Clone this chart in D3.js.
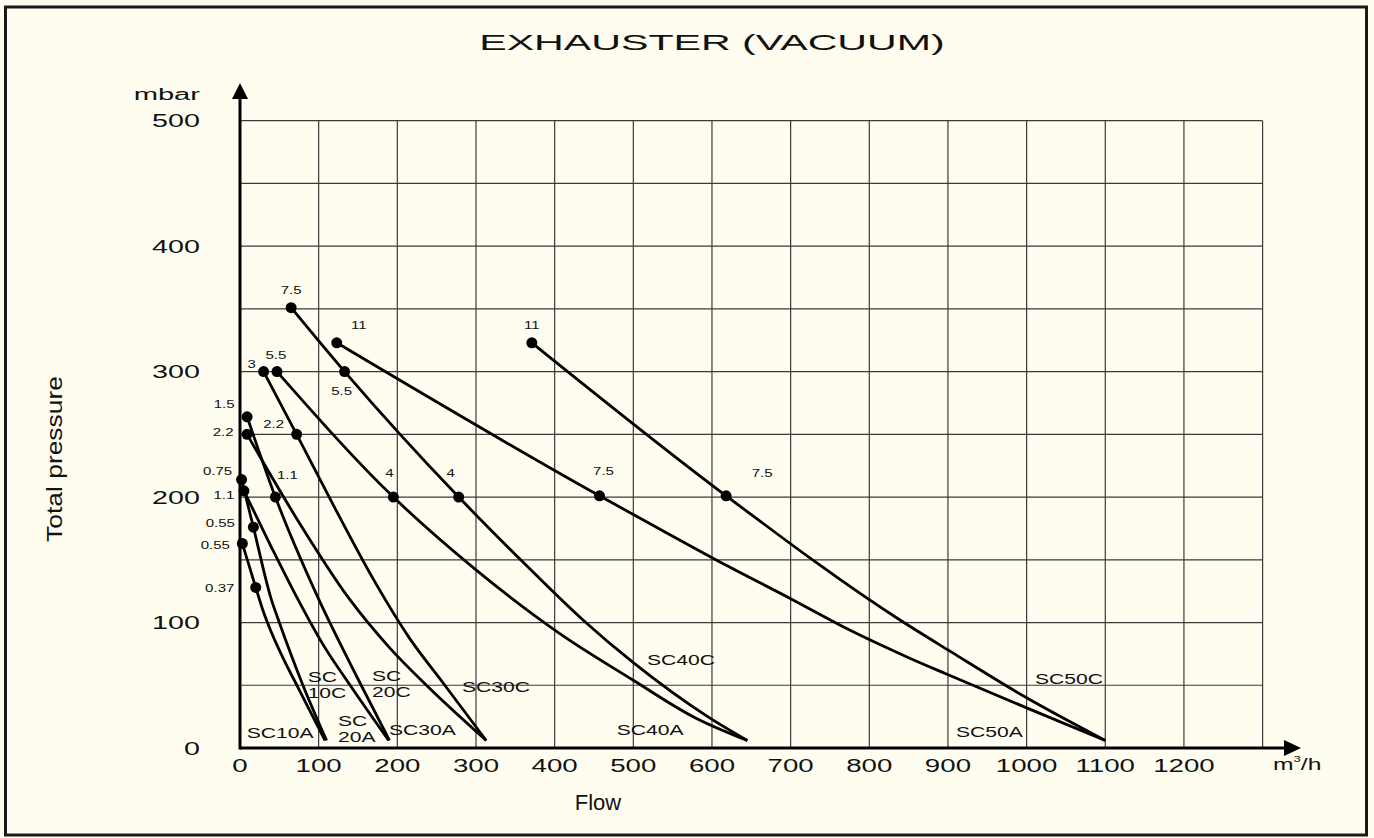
<!DOCTYPE html>
<html>
<head>
<meta charset="utf-8">
<script src="https://cdn.jsdelivr.net/npm/d3@7"></script>
<style>
  html, body { margin: 0; padding: 0; background: #fffdf0; }
  svg { display: block; }
</style>
</head>
<body>
<svg id="chart"></svg>
<script>
var width = 1374;
var height = 838;

// tick labels
var xTicks = [0, 100, 200, 300, 400, 500, 600, 700, 800, 900, 1000, 1100, 1200];
var xGrid = [0, 100, 200, 300, 400, 500, 600, 700, 800, 900, 1000, 1100, 1200, 1300];
var yTicks = [0, 100, 200, 300, 400, 500];
var yGrid = [50, 100, 150, 200, 250, 300, 350, 400, 450, 500];

// curve names
var models = ["SC10A", "SC10C", "SC20A", "SC20C", "SC30A", "SC30C", "SC40A", "SC40C", "SC50A", "SC50C"];

// curve points [flow m3/h, pressure mbar]
var sc10a = [[3, 163], [20, 128], [29, 110], [40, 92], [56, 70], [74, 48], [108, 6]];
var sc10c = [[2, 214], [17, 176], [40, 118], [50, 100], [80, 50], [110, 6]];
var sc20a = [[5, 205], [40, 160], [74, 118], [105, 83], [140, 50], [189, 6]];
var sc20c = [[9, 264], [45, 200], [99, 120], [150, 55], [190, 6]];
var sc30a = [[9, 250], [70, 185], [140, 118], [190, 80], [237, 50], [313, 6]];
var sc30c = [[30, 300], [72, 250], [120, 192], [170, 134], [215, 88], [258, 52], [313, 6]];
var sc40a = [[47, 300], [195, 200], [300, 142], [407, 91], [500, 54], [576, 25], [645, 6]];
var sc40c = [[65, 351], [133, 300], [278, 200], [360, 148], [436, 102], [500, 68], [597, 24], [645, 6]];
var sc50a = [[123, 323], [457, 201], [538, 173], [620, 145], [700, 119], [775, 94], [850, 72], [898, 59], [1000, 32], [1100, 6]];
var sc50c = [[371, 323], [618, 201], [839, 102], [903, 77], [1000, 40], [1100, 6]];

// motor power points (kW) [flow, pressure, label]
var powerPoints = [
    [371, 323, "11"], [618, 201, "7.5"],
    [123, 323, "11"], [457, 201, "7.5"],
    [65, 351, "7.5"], [133, 300, "5.5"], [278, 200, "4"],
    [47, 300, "5.5"], [195, 200, "4"],
    [30, 300, "3"], [72, 250, "2.2"],
    [9, 250, "2.2"],
    [9, 264, "1.5"], [45, 200, "1.1"],
    [5, 205, "1.1"],
    [2, 214, "0.75"], [17, 176, "0.55"],
    [3, 163, "0.55"], [20, 128, "0.37"]
];
// label offsets in px, same order as powerPoints
var powerLabelOffset = [
    [0, -14], [36, -19],
    [22, -14], [4, -21],
    [0, -14], [-3, 23], [-8, -20],
    [-1, -13], [-4, -20],
    [-12, -4], [-23, -6],
    [-24, 2],
    [-23, -9], [12, -18],
    [-20, 8],
    [-24, -5], [-33, 0],
    [-27, 5], [-36, 5]
];

// model name labels: lines of text, anchored at [flow, pressure] of first baseline
var nameLabels = [
    [["SC10A"], 8.5, 8.2],
    [["SC", "10C"], 86, 52.8],
    [["SC", "20C"], 167.8, 53.4],
    [["SC", "20A"], 124.6, 17.5],
    [["SC30A"], 189.4, 10.4],
    [["SC30C"], 282.2, 44.9],
    [["SC40C"], 517.4, 66.2],
    [["SC40A"], 478.9, 10.4],
    [["SC50C"], 1010.7, 51],
    [["SC50A"], 910.2, 8.8]
];

var curves = [sc10a, sc10c, sc20a, sc20c, sc30a, sc30c, sc40a, sc40c, sc50a, sc50c];

var svg = d3.select("#chart")
    .attr("width", width)
    .attr("height", height);

svg.append("rect")
    .attr("x", 0).attr("y", 0)
    .attr("width", width).attr("height", height)
    .attr("fill", "#fffdf0");

// outer frame
svg.append("rect")
    .attr("x", 5.5).attr("y", 7)
    .attr("width", 1361).attr("height", 828)
    .attr("fill", "none")
    .attr("stroke", "#1a1a1a")
    .attr("stroke-width", 3);

var x = d3.scaleLinear().domain([0, 1300]).range([240, 1262.6]);
var y = d3.scaleLinear().domain([0, 500]).range([748, 120.7]);

// the original artwork is stretched sideways, so stretch the text too
var stretch = function(sel, k) {
    sel.each(function() {
        var w = this.getComputedTextLength();
        d3.select(this)
            .attr("textLength", w * k)
            .attr("lengthAdjust", "spacingAndGlyphs");
    });
};

var font = "Liberation Sans, Arial, sans-serif";

// grid
var grid = svg.append("g");
grid.selectAll(".vg")
    .data(xGrid)
    .enter()
    .append("line")
    .attr("x1", function(d) { return x(d); })
    .attr("x2", function(d) { return x(d); })
    .attr("y1", y(0))
    .attr("y2", y(500))
    .attr("stroke", "#3a3a3a")
    .attr("stroke-width", 1.2);

grid.selectAll(".hg")
    .data(yGrid)
    .enter()
    .append("line")
    .attr("x1", x(0))
    .attr("x2", x(1300))
    .attr("y1", function(d) { return y(d); })
    .attr("y2", function(d) { return y(d); })
    .attr("stroke", "#3a3a3a")
    .attr("stroke-width", 1.2);

// axes
svg.append("line")
    .attr("x1", x(0)).attr("x2", 1290)
    .attr("y1", y(0)).attr("y2", y(0))
    .attr("stroke", "#000").attr("stroke-width", 3);
svg.append("path")
    .attr("d", "M1284," + (y(0) - 8) + "L1301," + y(0) + "L1284," + (y(0) + 8) + "Z")
    .attr("fill", "#000");

svg.append("line")
    .attr("x1", x(0)).attr("x2", x(0))
    .attr("y1", y(0) + 1.5).attr("y2", 92)
    .attr("stroke", "#000").attr("stroke-width", 3);
svg.append("path")
    .attr("d", "M" + (x(0) - 8) + ",99L" + x(0) + ",83L" + (x(0) + 8) + ",99Z")
    .attr("fill", "#000");

// tick labels
svg.selectAll(".xt")
    .data(xTicks)
    .enter()
    .append("text")
    .attr("x", function(d) { return x(d); })
    .attr("y", 772)
    .attr("text-anchor", "middle")
    .attr("font-family", font)
    .attr("font-size", 17.5)
    .attr("fill", "#111")
    .text(function(d) { return d; })
    .call(stretch, 1.58);

svg.selectAll(".yt")
    .data(yTicks)
    .enter()
    .append("text")
    .attr("x", 200)
    .attr("y", function(d) { return y(d) + 6.5; })
    .attr("text-anchor", "end")
    .attr("font-family", font)
    .attr("font-size", 17.5)
    .attr("fill", "#111")
    .text(function(d) { return d; })
    .call(stretch, 1.64);

svg.append("text")
    .attr("x", 200).attr("y", 100)
    .attr("text-anchor", "end")
    .attr("font-family", font)
    .attr("font-size", 16)
    .attr("fill", "#111")
    .text("mbar")
    .call(stretch, 1.82);

var unit = svg.append("text")
    .attr("x", 1273).attr("y", 770)
    .attr("font-family", font)
    .attr("font-size", 17)
    .attr("fill", "#111");
unit.append("tspan").text("m");
unit.append("tspan").attr("font-size", 9).attr("dy", -8).text("3");
unit.append("tspan").attr("dy", 8).text("/h");
unit.call(stretch, 1.45);

// titles
svg.append("text")
    .attr("x", 712).attr("y", 50)
    .attr("text-anchor", "middle")
    .attr("font-family", font)
    .attr("font-size", 22)
    .attr("fill", "#111")
    .text("EXHAUSTER (VACUUM)")
    .call(stretch, 1.87);

svg.append("text")
    .attr("x", 598).attr("y", 810)
    .attr("text-anchor", "middle")
    .attr("font-family", font)
    .attr("font-size", 22)
    .attr("fill", "#111")
    .text("Flow");

svg.append("text")
    .attr("transform", "translate(62,459) rotate(-90)")
    .attr("text-anchor", "middle")
    .attr("font-family", font)
    .attr("font-size", 22)
    .attr("fill", "#111")
    .text("Total pressure")
    .call(stretch, 1.2);

// curves
var line = d3.line()
    .x(function(d) { return x(d[0]); })
    .y(function(d) { return y(d[1]); })
    .curve(d3.curveMonotoneX);

svg.selectAll(".curve")
    .data(curves)
    .enter()
    .append("path")
    .attr("d", line)
    .attr("fill", "none")
    .attr("stroke", "#000")
    .attr("stroke-width", 2.8);

// power points
svg.selectAll(".pt")
    .data(powerPoints)
    .enter()
    .append("circle")
    .attr("cx", function(d) { return x(d[0]); })
    .attr("cy", function(d) { return y(d[1]); })
    .attr("r", 5.5)
    .attr("fill", "#000");

svg.selectAll(".ptl")
    .data(powerPoints)
    .enter()
    .append("text")
    .attr("x", function(d, i) { return x(d[0]) + powerLabelOffset[i][0]; })
    .attr("y", function(d, i) { return y(d[1]) + powerLabelOffset[i][1]; })
    .attr("text-anchor", "middle")
    .attr("font-family", font)
    .attr("font-size", 10)
    .attr("fill", "#111")
    .text(function(d) { return d[2]; })
    .call(stretch, 1.5);

// model names
nameLabels.forEach(function(n) {
    n[0].forEach(function(s, j) {
        svg.append("text")
            .attr("x", x(n[1]))
            .attr("y", y(n[2]) + j * 16)
            .attr("font-family", font)
            .attr("font-size", 15.5)
            .attr("fill", "#111")
            .text(s)
            .call(stretch, 1.36);
    });
});
</script>
</body>
</html>
